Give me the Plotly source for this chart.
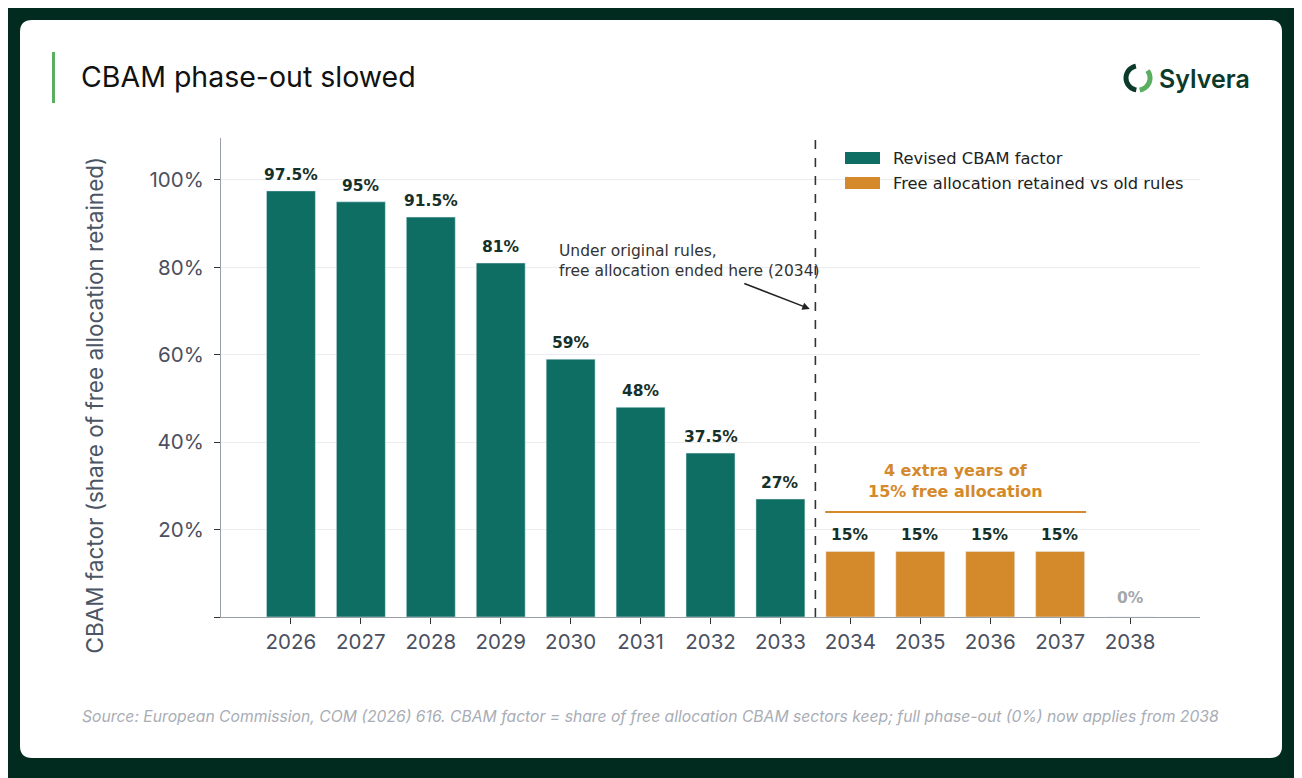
import math
import plotly.graph_objects as go

# data
years_revised = [2026, 2027, 2028, 2029, 2030, 2031, 2032, 2033]
factor_revised = [97.5, 95, 91.5, 81, 59, 48, 37.5, 27]
years_extra = [2034, 2035, 2036, 2037]
factor_extra = [15, 15, 15, 15]
years_end = [2038]
factor_end = [0]
y_ticks = [0, 20, 40, 60, 80, 100]
y_ticktext = ["", "20%", "40%", "60%", "80%", "100%"]

TEAL = "#0f6e63"
ORANGE = "#d4892b"
DARK = "#022b1f"

# page puts the figure 8px in from the window corner
OFF = 8
W, H = 1302 - OFF, 778 - OFF
L, R, T, B = 221 - OFF, 102, 138 - OFF, 161
PW, PH = W - L - R, H - T - B


def pp(x, y):
    # window pixel -> paper coords
    return (x - OFF - L) / PW, (H - B - (y - OFF)) / PH


fig = go.Figure()
fig.add_trace(go.Bar(x=years_revised, y=factor_revised, name="Revised CBAM factor",
                     marker_color=TEAL, width=0.7, showlegend=False))
fig.add_trace(go.Bar(x=years_extra, y=factor_extra, name="Free allocation retained vs old rules",
                     marker_color=ORANGE, width=0.7, showlegend=False))
fig.add_trace(go.Bar(x=years_end, y=factor_end, name="End", marker_color="#aaaaaa",
                     width=0.7, showlegend=False))

# value labels above bars
for xs, ys, col in [(years_revised, factor_revised, "#16302a"),
                    (years_extra, factor_extra, "#16302a"),
                    (years_end, factor_end, "#a3a7ab")]:
    for xv, yv in zip(xs, ys):
        fig.add_annotation(x=xv, y=yv, text=f"{yv:g}%", showarrow=False,
                           yanchor="bottom", yshift=5 if yv else 8,
                           font=dict(family="DejaVu Sans", size=15.5, color=col, weight="bold"))

# white rounded card
x0, y0 = pp(20, 20)
x1, y1 = pp(1282, 758)
rx, ry = 12 / PW, 12 / PH
card = (f"M{x0 + rx},{y0} L{x1 - rx},{y0} Q{x1},{y0} {x1},{y0 - ry} "
        f"L{x1},{y1 + ry} Q{x1},{y1} {x1 - rx},{y1} L{x0 + rx},{y1} "
        f"Q{x0},{y1} {x0},{y1 + ry} L{x0},{y0 - ry} Q{x0},{y0} {x0 + rx},{y0} Z")
fig.add_shape(type="path", path=card, xref="paper", yref="paper",
              fillcolor="#ffffff", line_width=0, layer="below")

# green accent bar by the title
ax0, ay0 = pp(52, 52)
ax1, ay1 = pp(55, 103)
fig.add_shape(type="rect", x0=ax0, y0=ay0, x1=ax1, y1=ay1, xref="paper", yref="paper",
              fillcolor="#5aae5f", line_width=0)

# title
tx, ty = pp(79, 77)
fig.add_annotation(x=tx, y=ty, xref="paper", yref="paper", text="CBAM phase-out slowed",
                   showarrow=False, xanchor="left", yanchor="middle",
                   font=dict(family="Inter", size=28.5, color="#111111"))


# logo: ring made of two arcs + word mark
def arc(cx, cy, r, a0, a1, n=30):
    pts = []
    for i in range(n + 1):
        a = math.radians(a0 + (a1 - a0) * i / n)
        pts.append(pp(cx + r * math.cos(a), cy - r * math.sin(a)))
    return "M" + " L".join(f"{p[0]},{p[1]}" for p in pts)


fig.add_shape(type="path", path=arc(1138, 78, 12, 100, 262), xref="paper", yref="paper",
              line=dict(color="#0b3a2a", width=5))
fig.add_shape(type="path", path=arc(1138, 78, 12, -82, 38), xref="paper", yref="paper",
              line=dict(color="#5aae5f", width=5))
lx, ly = pp(1157, 79)
fig.add_annotation(x=lx, y=ly, xref="paper", yref="paper", text="Sylvera", showarrow=False,
                   xanchor="left", yanchor="middle",
                   font=dict(family="Inter", size=25, color="#0b3a2a", weight=600))

# y axis title (as annotation, sits lower than axis centre)
yx, yy = pp(78, 405)
fig.add_annotation(x=yx, y=yy, xref="paper", yref="paper", textangle=-90,
                   text="CBAM factor (share of free allocation retained)", showarrow=False,
                   font=dict(family="Inter", size=22.5, color="#4b5563"))

# legend drawn by hand
for i, (name, col) in enumerate([("Revised CBAM factor", TEAL),
                                 ("Free allocation retained vs old rules", ORANGE)]):
    cy = 158 + 25 * i
    sx0, sy0 = pp(845, cy - 6)
    sx1, sy1 = pp(880, cy + 6)
    fig.add_shape(type="rect", x0=sx0, y0=sy0, x1=sx1, y1=sy1, xref="paper", yref="paper",
                  fillcolor=col, line_width=0)
    nx, ny = pp(891, cy)
    fig.add_annotation(x=nx, y=ny, xref="paper", yref="paper", text=name, showarrow=False,
                       xanchor="left", yanchor="middle",
                       font=dict(family="DejaVu Sans", size=16.3, color="#222222"))

# old end-of-free-allocation marker
fig.add_shape(type="line", x0=2033.5, x1=2033.5, y0=0, y1=109.2, xref="x", yref="y",
              line=dict(color="#333333", width=1.6, dash="dash"))
fig.add_annotation(x=2029.8, y=81.5, text="Under original rules,<br>free allocation ended here (2034)",
                   showarrow=False, xanchor="left", yanchor="middle", align="left",
                   font=dict(family="DejaVu Sans", size=15.5, color="#333333"))
fig.add_annotation(x=2033.42, y=70.5, ax=-67, ay=-26, text="", showarrow=True,
                   arrowhead=2, arrowsize=1, arrowwidth=1.5, arrowcolor="#222222")

# bracket for the extra years
fig.add_shape(type="line", x0=2033.64, x1=2037.37, y0=24, y1=24, xref="x", yref="y",
              line=dict(color=ORANGE, width=2))
fig.add_annotation(x=2035.5, y=31.1, text="4 extra years of<br>15% free allocation",
                   showarrow=False, yanchor="middle",
                   font=dict(family="DejaVu Sans", size=16, color=ORANGE, weight="bold"))

# footnote
fx, fy = pp(80, 716)
fig.add_annotation(x=fx, y=fy, xref="paper", yref="paper", showarrow=False,
                   xanchor="left", yanchor="middle",
                   text="Source: European Commission, COM (2026) 616. CBAM factor = share of free "
                        "allocation CBAM sectors keep; full phase-out (0%) now applies from 2038",
                   font=dict(family="Inter", size=15.7, color="#a9adb5", style="italic"))

fig.update_layout(
    width=W, height=H,
    margin=dict(l=L, r=R, t=T, b=B, pad=0),
    paper_bgcolor=DARK,
    plot_bgcolor="rgba(0,0,0,0)",
    showlegend=False,
    xaxis=dict(range=[2025, 2039], tickvals=years_revised + years_extra + years_end,
               ticks="outside", ticklen=6, tickcolor="#333333", tickwidth=1.2,
               showline=True, linecolor="#9aa0a6", linewidth=1.2, showgrid=False,
               ticklabelstandoff=0, zeroline=False,
               tickfont=dict(family="Inter", size=20.5, color="#4b5060")),
    yaxis=dict(range=[0, 109.6], tickvals=y_ticks, ticktext=y_ticktext,
               ticks="outside", ticklen=6, tickcolor="#333333", tickwidth=1.2,
               showline=True, linecolor="#9aa0a6", linewidth=1.2,
               showgrid=True, gridcolor="#ebedf0", gridwidth=1, zeroline=False,
               ticklabelstandoff=6,
               tickfont=dict(family="Inter", size=20.5, color="#4b5060")),
)

fig.write_html("out.html")
